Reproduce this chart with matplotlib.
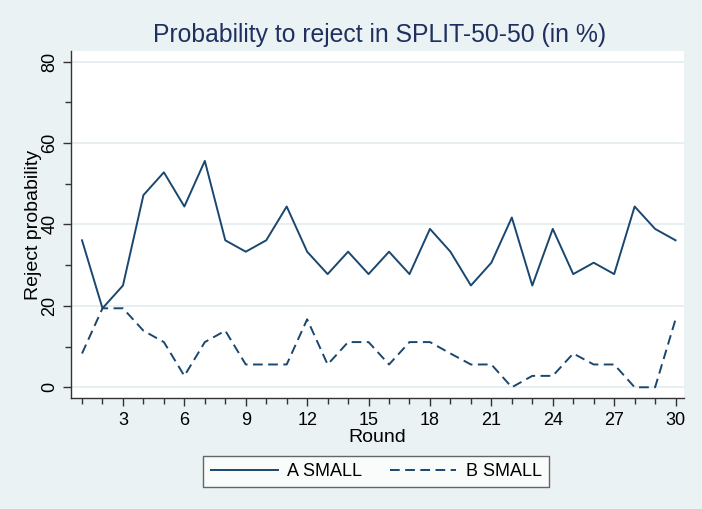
import matplotlib
matplotlib.use('Agg')
import matplotlib.pyplot as plt
from matplotlib.ticker import MultipleLocator, FixedLocator

# Reject probability (in %) per round
rounds = list(range(1, 31))
a_small = [36.1, 19.4, 25.0, 47.2, 52.8, 44.4, 55.6, 36.1, 33.3, 36.1,
           44.4, 33.3, 27.8, 33.3, 27.8, 33.3, 27.8, 38.9, 33.3, 25.0,
           30.6, 41.7, 25.0, 38.9, 27.8, 30.6, 27.8, 44.4, 38.9, 36.1]
b_small = [8.3, 19.4, 19.4, 13.9, 11.1, 2.8, 11.1, 13.9, 5.6, 5.6,
           5.6, 16.7, 5.6, 11.1, 11.1, 5.6, 11.1, 11.1, 8.3, 5.6,
           5.6, 0.0, 2.8, 2.8, 8.3, 5.6, 5.6, 0.0, 0.0, 16.7]
series_labels = ['A SMALL', 'B SMALL']
x_ticks = [3, 6, 9, 12, 15, 18, 21, 24, 27, 30]
y_ticks = [0, 20, 40, 60, 80]

NAVY = '#1a476f'
TITLE = '#1f3060'
BG = '#eaf2f3'

plt.rcParams['font.family'] = ['Liberation Sans', 'DejaVu Sans']

fig = plt.figure(figsize=(7.02, 5.09), dpi=100)
fig.patch.set_facecolor(BG)
ax = fig.add_axes([0.1011, 0.2181, 0.8732, 0.6817])
ax.set_facecolor('white')

ax.plot(rounds, a_small, color=NAVY, lw=1.4, label=series_labels[0])
ax.plot(rounds, b_small, color=NAVY, lw=1.4, dashes=(5.0, 2.8), label=series_labels[1])

ax.set_xlim(0.46, 30.41)
ax.set_ylim(-2.63, 82.6)

ax.xaxis.set_major_locator(FixedLocator(x_ticks))
ax.xaxis.set_minor_locator(MultipleLocator(1))
ax.yaxis.set_major_locator(FixedLocator(y_ticks))
ax.yaxis.set_minor_locator(MultipleLocator(10))

ax.tick_params(axis='both', which='major', length=6, width=1, color='#333333',
               labelsize=13, labelcolor='black')
ax.tick_params(axis='both', which='minor', length=4, width=1, color='#333333')
ax.tick_params(axis='x', which='major', pad=4)
ax.tick_params(axis='y', which='major', pad=3)
for lbl in ax.get_yticklabels():
    lbl.set_rotation(90)
    lbl.set_va('center')

ax.grid(axis='y', which='major', color='#e3ecee', lw=1.2)
ax.set_axisbelow(True)

for side in ['top', 'right']:
    ax.spines[side].set_visible(False)
for side in ['left', 'bottom']:
    ax.spines[side].set_color('#333333')
    ax.spines[side].set_linewidth(1)

ax.set_xlabel('Round', fontsize=14, labelpad=0)
ax.set_ylabel('Reject probability', fontsize=14)
ax.yaxis.set_label_coords(-0.047, 0.5)

fig.text(0.541, 0.918, 'Probability to reject in SPLIT-50-50 (in %)',
         ha='center', va='baseline', fontsize=17.8, color=TITLE)

leg = ax.legend(loc='center', bbox_to_anchor=(0.5363, 0.0737),
                bbox_transform=fig.transFigure, ncol=2, fontsize=13,
                frameon=True, fancybox=False, edgecolor='#404040',
                handlelength=3.7, handletextpad=0.55, columnspacing=1.5,
                borderpad=0.4)
leg.get_frame().set_linewidth(1)

fig.savefig('out.png', dpi=100, facecolor=BG)
